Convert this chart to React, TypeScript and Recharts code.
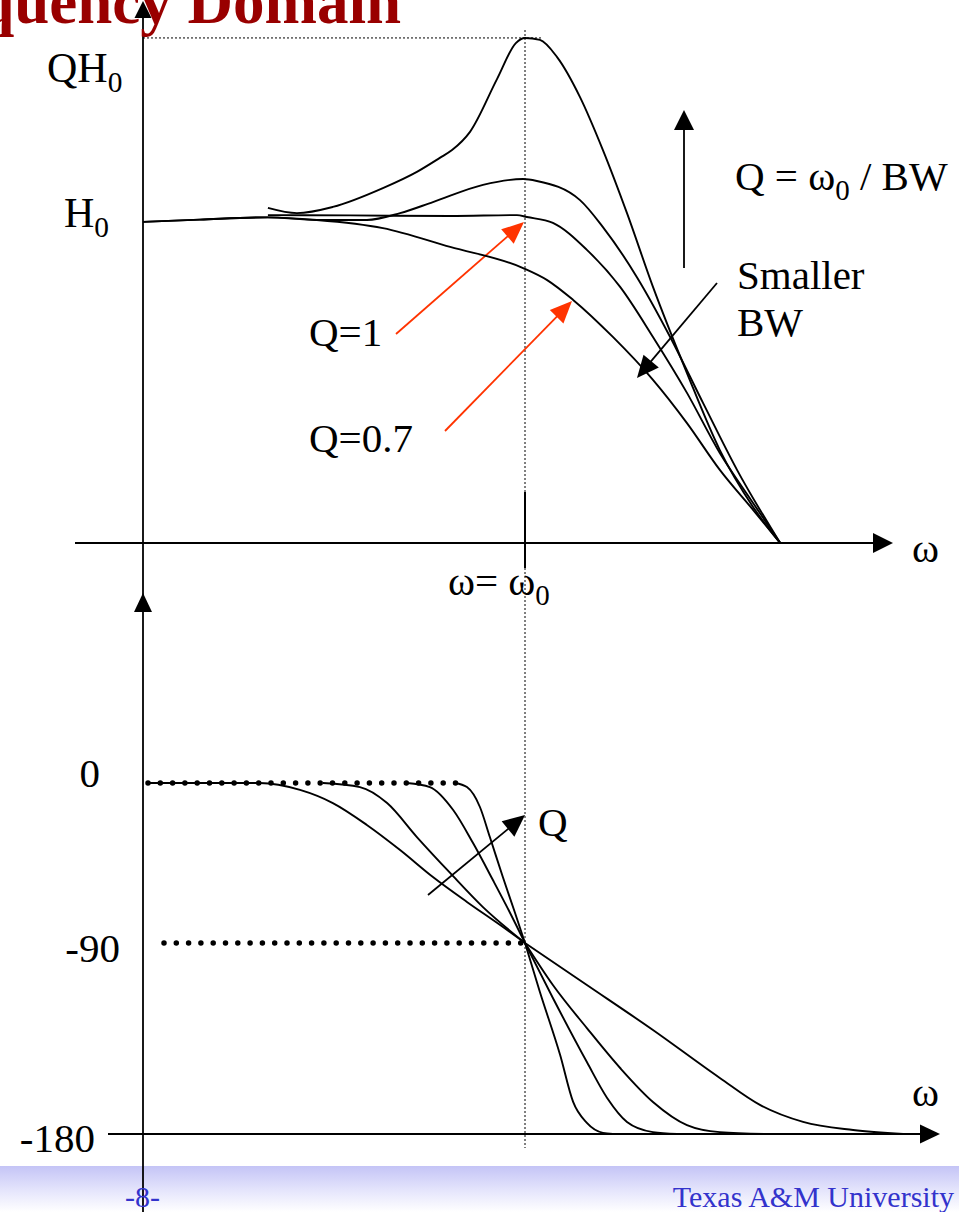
import React from 'react';
import { LineChart, Line, XAxis, YAxis, ReferenceLine } from 'recharts';

// ω is normalised to ω0, |H| to H0, phase in degrees
const magLowQ = [
  [0, 0.988], [0.149, 0.995], [0.327, 1.002], [0.455, 0.994], [0.628, 0.969], [0.804, 0.911],
  [0.995, 0.846], [1.058, 0.809], [1.126, 0.748], [1.23, 0.634], [1.335, 0.502], [1.424, 0.369],
  [1.51, 0.225], [1.597, 0.102], [1.668, 0],
];
const magQ1 = [
  [0.327, 1.009], [0.542, 1.008], [0.804, 1.006], [0.979, 1.009], [1.005, 1.003], [1.073, 0.985],
  [1.162, 0.902], [1.249, 0.788], [1.335, 0.634], [1.424, 0.462], [1.51, 0.277], [1.597, 0.123], [1.668, 0],
];
const magMidQ = [
  [0, 0.988], [0.149, 0.995], [0.327, 1.002], [0.455, 0.994], [0.586, 0.994], [0.673, 1.015],
  [0.759, 1.049], [0.89, 1.102], [0.995, 1.12], [1.031, 1.114], [1.144, 1.055], [1.204, 0.972],
  [1.293, 0.818], [1.38, 0.634], [1.466, 0.431], [1.555, 0.225], [1.668, 0],
];
const magHighQ = [
  [0.327, 1.031], [0.403, 1.015], [0.497, 1.034], [0.628, 1.092], [0.717, 1.142], [0.777, 1.185],
  [0.809, 1.209], [0.856, 1.265], [0.927, 1.428], [0.976, 1.538], [1.0, 1.554], [1.039, 1.548],
  [1.084, 1.495], [1.144, 1.372], [1.204, 1.209], [1.267, 1.015], [1.335, 0.788], [1.424, 0.523],
  [1.51, 0.286], [1.597, 0.111], [1.668, 0],
];

const phaseQa = [
  [0.013, 0], [0.306, 0], [0.411, -3.9], [0.497, -11.3], [0.586, -23.6], [0.673, -37.7], [0.759, -52.9],
  [0.848, -66.9], [0.935, -79.9], [1, -90], [1.162, -109.8], [1.335, -131], [1.51, -153.6],
  [1.615, -166.3], [1.728, -174.3], [1.859, -178.1], [1.99, -180],
];
const phaseQb = [
  [0.471, 0], [0.568, -2.3], [0.639, -11.3], [0.717, -30.4], [0.804, -50.6], [0.89, -69.8], [1, -90],
  [1.073, -109.8], [1.162, -130.1], [1.249, -148.9], [1.335, -164.9], [1.424, -175.8], [1.51, -179.1], [1.641, -180],
];
const phaseQc = [
  [0.691, 0], [0.751, -2.3], [0.812, -15.2], [0.864, -33.8], [0.916, -54.6], [0.961, -73.1], [1, -90],
  [1.073, -115.9], [1.162, -146.1], [1.215, -163], [1.267, -174.3], [1.335, -179.1], [1.398, -180],
];
const phaseQd = [
  [0.817, 0], [0.848, -2.3], [0.882, -13.5], [0.908, -30.4], [0.942, -52.9], [0.974, -73.1], [1, -90],
  [1.039, -113.1], [1.092, -142.8], [1.126, -164.9], [1.162, -174.8], [1.204, -179.5], [1.23, -180],
];

const magSeries = [magLowQ, magQ1, magMidQ, magHighQ];
const phaseSeries = [phaseQa, phaseQb, phaseQc, phaseQd];
const phaseTicks = ['0', '-90', '-180'];

// page layout (pixels)
const W = 959;
const H = 1212;
const X_ORIGIN = 143;
const X_W0 = 525;
const MAG_ZERO_Y = 543;
const MAG_H0_Y = 218;
const P0_Y = 783;
const P90_Y = 943;
const P180_Y = 1134;

const wOfX = (x: number) => (x - X_ORIGIN) / (X_W0 - X_ORIGIN);
const magOfY = (y: number) => (MAG_ZERO_Y - y) / (MAG_ZERO_Y - MAG_H0_Y);
const phUpOfY = (y: number) => (-90 * (y - P0_Y)) / (P90_Y - P0_Y);
const phLowOfY = (y: number) => -90 - (90 * (y - P90_Y)) / (P180_Y - P90_Y);

const X_DOMAIN = [wOfX(0), wOfX(W)];
const PEAK = Math.max(...magHighQ.map((p) => p[1]));

const TOP_H = 600;
const UP_TOP = 560;
const UP_H = 440;
const LOW_TOP = 890;
const LOW_H = H - LOW_TOP;

const RED = '#ff3300';
const SERIF = '"Liberation Serif", "Times New Roman", serif';

const toPts = (rows: number[][]) => rows.map(([w, v]) => ({ w, v }));

type SegOpts = { color?: string; width?: number; head?: number; half?: number; dash?: string; round?: boolean };

const seg = (o: SegOpts) => (p: any) => {
  const { x1, y1, x2, y2 } = p;
  const color = o.color ?? '#000';
  const sw = o.width ?? 1.8;
  if (!o.head) {
    return (
      <line x1={x1} y1={y1} x2={x2} y2={y2} stroke={color} strokeWidth={sw}
        strokeDasharray={o.dash} strokeLinecap={o.round ? 'round' : 'butt'} />
    );
  }
  const dx = x2 - x1;
  const dy = y2 - y1;
  const len = Math.hypot(dx, dy) || 1;
  const ux = dx / len;
  const uy = dy / len;
  const bx = x2 - ux * o.head;
  const by = y2 - uy * o.head;
  const half = o.half ?? o.head * 0.45;
  const pts = `${x2},${y2} ${bx - uy * half},${by + ux * half} ${bx + uy * half},${by - ux * half}`;
  return (
    <g>
      <line x1={x1} y1={y1} x2={bx + ux} y2={by + uy} stroke={color} strokeWidth={sw} />
      <polygon points={pts} fill={color} />
    </g>
  );
};

const dottedThin = seg({ width: 1, dash: '2 2' });
const dottedBold = seg({ width: 5.5, dash: '0 12.3', round: true });

const curve = (rows: number[][], i: number) => (
  <Line key={i} data={toPts(rows)} dataKey="v" type="monotone" stroke="#000" strokeWidth={1.9}
    dot={false} activeDot={false} isAnimationActive={false} />
);

function Sub({ x, y, main, sub, size = 42 }: { x: number; y: number; main: string; sub: string; size?: number }) {
  return (
    <text x={x} y={y} fontSize={size} fontFamily={SERIF} fill="#000">
      {main}
      <tspan fontSize={size * 0.7} dy={size * 0.24}>{sub}</tspan>
    </text>
  );
}

export default function App() {
  const noMargin = { top: 0, right: 0, bottom: 0, left: 0 };
  return (
    <div style={{ position: 'absolute', left: 0, top: 0, width: W, height: H, overflow: 'hidden', background: '#fff' }}>
      <div style={{ position: 'absolute', left: 0, top: 1166, width: W, height: H - 1166,
        background: 'linear-gradient(to bottom, #c4c4f6 0%, #e6e6fc 55%, #ffffff 100%)' }} />

      {/* magnitude */}
      <div style={{ position: 'absolute', left: 0, top: 0 }}>
        <LineChart width={W} height={TOP_H} margin={noMargin}>
          <XAxis type="number" dataKey="w" domain={X_DOMAIN} hide allowDataOverflow />
          <YAxis type="number" domain={[magOfY(TOP_H), magOfY(0)]} hide allowDataOverflow />
          <ReferenceLine ifOverflow="visible" segment={[{ x: 1, y: magOfY(30) }, { x: 1, y: magOfY(UP_TOP) }]} shape={dottedThin} />
          <ReferenceLine ifOverflow="visible" segment={[{ x: 0, y: PEAK }, { x: wOfX(541), y: PEAK }]} shape={dottedThin} />
          <ReferenceLine ifOverflow="visible" segment={[{ x: 0, y: magOfY(TOP_H) }, { x: 0, y: magOfY(1) }]} shape={seg({ head: 17, half: 8.5 })} />
          <ReferenceLine ifOverflow="visible" segment={[{ x: wOfX(75), y: 0 }, { x: wOfX(893), y: 0 }]} shape={seg({ head: 20, half: 10 })} />
          <ReferenceLine ifOverflow="visible" segment={[{ x: 1, y: magOfY(492) }, { x: 1, y: magOfY(568) }]} shape={seg({ width: 2 })} />
          <ReferenceLine ifOverflow="visible" segment={[{ x: wOfX(396), y: magOfY(334) }, { x: wOfX(524), y: magOfY(222) }]} shape={seg({ color: RED, head: 22, half: 9.5 })} />
          <ReferenceLine ifOverflow="visible" segment={[{ x: wOfX(445), y: magOfY(431) }, { x: wOfX(572), y: magOfY(301) }]} shape={seg({ color: RED, head: 22, half: 9.5 })} />
          <ReferenceLine ifOverflow="visible" segment={[{ x: wOfX(684), y: magOfY(268) }, { x: wOfX(684), y: magOfY(110) }]} shape={seg({ head: 20, half: 10 })} />
          <ReferenceLine ifOverflow="visible" segment={[{ x: wOfX(717), y: magOfY(283) }, { x: wOfX(637), y: magOfY(378) }]} shape={seg({ head: 22, half: 10 })} />
          {magSeries.map(curve)}
        </LineChart>
      </div>

      {/* phase, 0 .. -90 */}
      <div style={{ position: 'absolute', left: 0, top: UP_TOP }}>
        <LineChart width={W} height={UP_H} margin={noMargin}>
          <XAxis type="number" dataKey="w" domain={X_DOMAIN} hide allowDataOverflow />
          <YAxis type="number" domain={[phUpOfY(UP_TOP + UP_H), phUpOfY(UP_TOP)]} hide allowDataOverflow />
          <ReferenceLine ifOverflow="visible" segment={[{ x: 1, y: phUpOfY(UP_TOP) }, { x: 1, y: -90 }]} shape={dottedThin} />
          <ReferenceLine ifOverflow="visible" segment={[{ x: wOfX(148), y: 0 }, { x: wOfX(462), y: 0 }]} shape={dottedBold} />
          <ReferenceLine ifOverflow="visible" segment={[{ x: wOfX(164), y: -90 }, { x: 1, y: -90 }]} shape={dottedBold} />
          <ReferenceLine ifOverflow="visible" segment={[{ x: 0, y: phUpOfY(UP_TOP + UP_H) }, { x: 0, y: phUpOfY(593) }]} shape={seg({ head: 19, half: 9 })} />
          <ReferenceLine ifOverflow="visible" segment={[{ x: wOfX(428), y: phUpOfY(895) }, { x: wOfX(525), y: phUpOfY(815) }]} shape={seg({ head: 22, half: 10 })} />
          {phaseSeries.map((s, i) => curve(s.filter((p) => p[0] <= 1), i))}
        </LineChart>
      </div>

      {/* phase, -90 .. -180 */}
      <div style={{ position: 'absolute', left: 0, top: LOW_TOP }}>
        <LineChart width={W} height={LOW_H} margin={noMargin}>
          <XAxis type="number" dataKey="w" domain={X_DOMAIN} hide allowDataOverflow />
          <YAxis type="number" domain={[phLowOfY(H), phLowOfY(LOW_TOP)]} hide allowDataOverflow />
          <ReferenceLine ifOverflow="visible" segment={[{ x: 1, y: -90 }, { x: 1, y: phLowOfY(1148) }]} shape={dottedThin} />
          <ReferenceLine ifOverflow="visible" segment={[{ x: 0, y: phLowOfY(UP_TOP + UP_H) }, { x: 0, y: phLowOfY(H) }]} shape={seg({})} />
          <ReferenceLine ifOverflow="visible" segment={[{ x: wOfX(108), y: -180 }, { x: wOfX(940), y: -180 }]} shape={seg({ head: 20, half: 9.5 })} />
          {phaseSeries.map((s, i) => curve(s.filter((p) => p[0] >= 1), i))}
        </LineChart>
      </div>

      <svg width={W} height={H} style={{ position: 'absolute', left: 0, top: 0, pointerEvents: 'none' }}>
        <text x={401} y={23} textAnchor="end" fontSize={63} fontWeight="bold" fontFamily={SERIF} fill="#990000">
          Frequency Domain
        </text>
        <Sub x={47} y={82} main="QH" sub="0" />
        <Sub x={64} y={227} main="H" sub="0" />
        <text x={735} y={190} fontSize={41} fontFamily={SERIF}>
          Q = ω<tspan fontSize={29} dy={10}>0</tspan><tspan dy={-10}> / BW</tspan>
        </text>
        <text x={737} y={289} fontSize={41} fontFamily={SERIF}>Smaller</text>
        <text x={737} y={336} fontSize={41} fontFamily={SERIF}>BW</text>
        <text x={309} y={346} fontSize={41} fontFamily={SERIF}>Q=1</text>
        <text x={309} y={452} fontSize={41} fontFamily={SERIF}>Q=0.7</text>
        <text x={448} y={595} fontSize={41} fontFamily={SERIF}>
          ω= ω<tspan fontSize={29} dy={10}>0</tspan>
        </text>
        <text x={912} y={562} fontSize={41} fontFamily={SERIF}>ω</text>
        <text x={912} y={1106} fontSize={41} fontFamily={SERIF}>ω</text>
        <text x={538} y={836} fontSize={41} fontFamily={SERIF}>Q</text>
        <text x={100} y={787} textAnchor="end" fontSize={41} fontFamily={SERIF}>{phaseTicks[0]}</text>
        <text x={120} y={962} textAnchor="end" fontSize={41} fontFamily={SERIF}>{phaseTicks[1]}</text>
        <text x={95} y={1152} textAnchor="end" fontSize={41} fontFamily={SERIF}>{phaseTicks[2]}</text>
        <text x={125} y={1207} fontSize={30} fontFamily={SERIF} fill="#3333cc">-8-</text>
        <text x={954} y={1207} textAnchor="end" fontSize={30} fontFamily={SERIF} fill="#3333cc">Texas A&amp;M University</text>
      </svg>
    </div>
  );
}
